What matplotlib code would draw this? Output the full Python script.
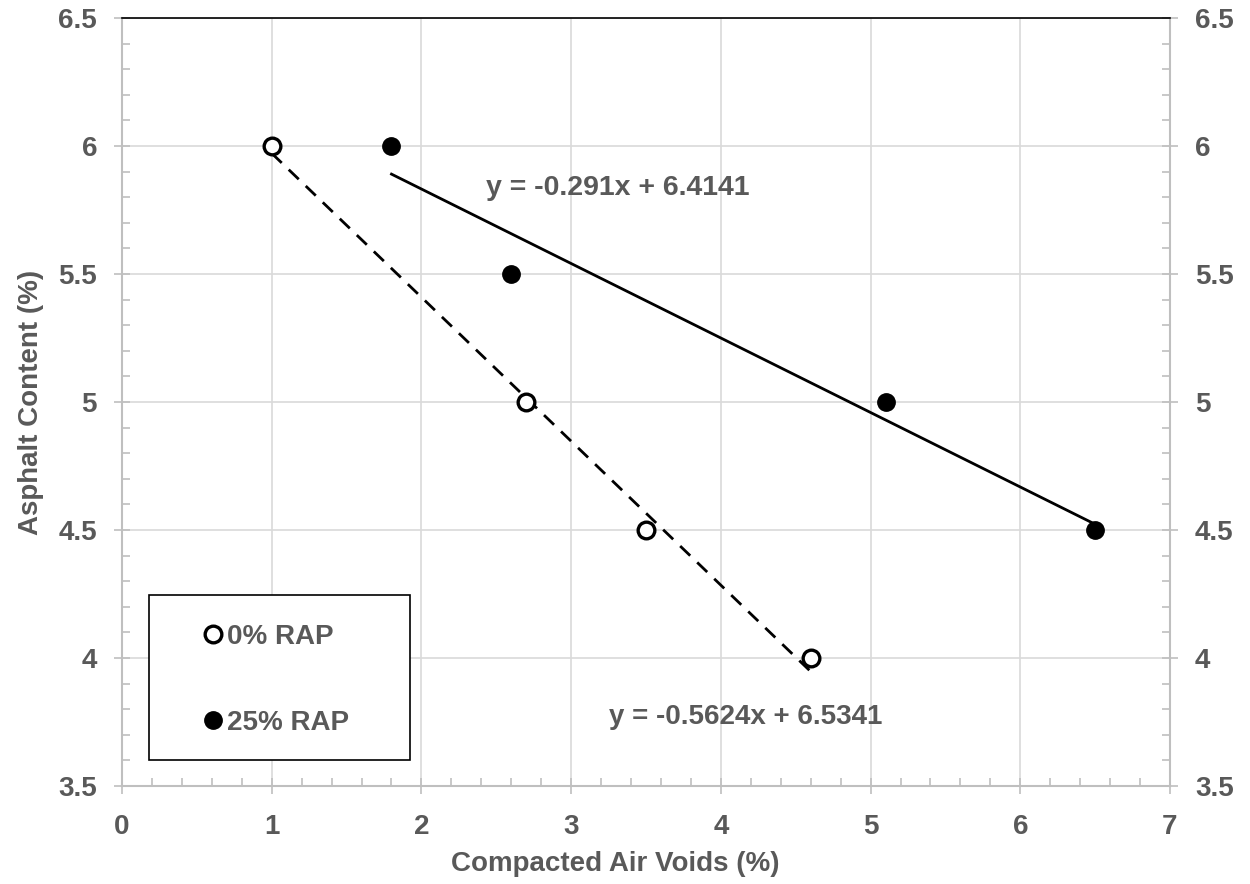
import numpy as np
import matplotlib.pyplot as plt
from matplotlib.patches import Rectangle
from matplotlib.ticker import MultipleLocator

plt.rcParams['font.family'] = ['Liberation Sans', 'DejaVu Sans']
plt.rcParams['font.weight'] = 'bold'
plt.rcParams['axes.labelweight'] = 'bold'

# data
voids_0 = [1.0, 2.7, 3.5, 4.6]
ac_0 = [6.0, 5.0, 4.5, 4.0]
voids_25 = [1.8, 2.6, 5.1, 6.5]
ac_25 = [6.0, 5.5, 5.0, 4.5]
labels = ["0% RAP", "25% RAP"]

grey = "#595959"
axis_grey = "#bfbfbf"
fs = 20

fig = plt.figure(figsize=(12.5, 8.84), dpi=100)
ax = fig.add_axes([0.0976, 0.1109, 0.8384, 0.8687])

# linear trendlines
m0, b0 = np.polyfit(voids_0, ac_0, 1)
m25, b25 = np.polyfit(voids_25, ac_25, 1)
x0 = np.array([min(voids_0), max(voids_0)])
x25 = np.array([min(voids_25), max(voids_25)])
ax.plot(x0, m0 * x0 + b0, color="black", lw=2, dashes=(5, 3.5), zorder=2)
ax.plot(x25, m25 * x25 + b25, color="black", lw=2, zorder=2)

ax.plot(voids_0, ac_0, "o", ms=12, mfc="white", mec="black", mew=2.4,
        label=labels[0], zorder=3)
ax.plot(voids_25, ac_25, "o", ms=12.5, mfc="black", mec="black",
        label=labels[1], zorder=3)

ax.text(2.43, 5.836, "y = %.3fx + %.4f" % (m25, b25), fontsize=20.5,
        color=grey, va="center")
ax.text(3.25, 3.77, "y = %.4fx + %.4f" % (m0, b0), fontsize=20,
        color=grey, va="center")

ax.set_xlim(0, 7)
ax.set_ylim(3.5, 6.5)
ax.xaxis.set_major_locator(MultipleLocator(1))
ax.xaxis.set_minor_locator(MultipleLocator(0.2))
ax.yaxis.set_major_locator(MultipleLocator(0.5))
ax.yaxis.set_minor_locator(MultipleLocator(0.1))
ax.set_yticks([3.5, 4, 4.5, 5, 5.5, 6, 6.5])
ax.set_yticklabels(["3.5", "4", "4.5", "5", "5.5", "6", "6.5"])

ax.grid(True, which="major", color="#d9d9d9", lw=1.2, zorder=0)
ax.set_axisbelow(True)

for side in ["left", "right", "bottom"]:
    ax.spines[side].set_color(axis_grey)
    ax.spines[side].set_linewidth(1.5)
ax.spines["top"].set_color("black")
ax.spines["top"].set_linewidth(1.2)

ax.tick_params(axis="both", which="major", direction="inout", length=12,
               width=1.2, color=axis_grey, labelsize=fs, labelcolor=grey)
ax.tick_params(axis="both", which="minor", direction="in", length=6,
               width=1.2, color=axis_grey)
ax.tick_params(axis="y", which="both", left=True, right=True,
               labelleft=True, labelright=True, pad=12)
ax.tick_params(axis="x", which="both", top=False, pad=14)

ax.set_xlabel("Compacted Air Voids (%)", fontsize=fs, color=grey, labelpad=8)
ax.xaxis.label.set_x(0.471)
ax.set_ylabel("Asphalt Content (%)", fontsize=fs, color=grey, labelpad=10)

# legend box
ax.add_patch(Rectangle((0.0258, 0.0339), 0.249, 0.2148, transform=ax.transAxes,
                       fill=True, facecolor="white", edgecolor="black",
                       lw=1.2, zorder=4))
leg = ax.legend(loc="upper left", bbox_to_anchor=(0.078, 0.2115),
                frameon=False, fontsize=fs, handlelength=0.7,
                handletextpad=0.15, labelspacing=2.17, borderpad=0,
                borderaxespad=0, labelcolor=grey, markerscale=1.0)
leg.set_zorder(5)

fig.savefig("out.png", dpi=100)
